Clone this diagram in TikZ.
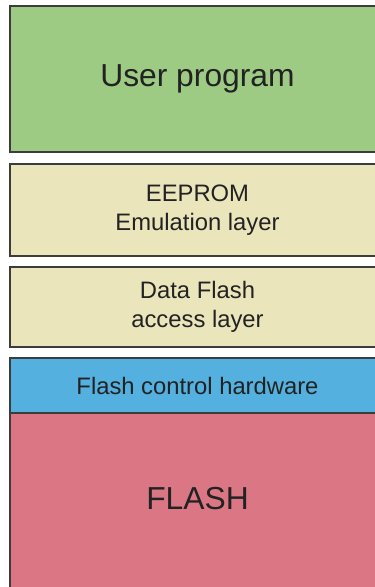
\documentclass[tikz,border=0pt]{standalone}
\usepackage{fontspec}
\setmainfont{Liberation Sans}
\definecolor{cgreen}{RGB}{157,203,132}
\definecolor{cyellow}{RGB}{235,229,188}
\definecolor{cblue}{RGB}{84,176,222}
\definecolor{cred}{RGB}{219,119,133}
\definecolor{cline}{RGB}{60,60,60}
\definecolor{ctext}{RGB}{34,34,34}
\begin{document}
\begin{tikzpicture}[x=1pt,y=-1pt,
  layer/.style={draw=cline, line width=1.3pt, anchor=north west, minimum width=375pt,
    inner sep=0pt, outer sep=0pt, align=center, text=ctext},
  bigtxt/.style={font=\fontsize{31.8}{36}\selectfont},
  midtxt/.style={font=\fontsize{23.8}{29.5}\selectfont}]
\useasboundingbox (0,0) rectangle (375,587);
\clip (0,0) rectangle (375,587);
\node[layer, fill=cgreen, minimum height=146pt, bigtxt] (user) at (10,6) {User program};
\node[layer, fill=cyellow, minimum height=92pt, midtxt] (eeprom) at (10,164) {EEPROM\\Emulation layer};
\node[layer, fill=cyellow, minimum height=80pt, midtxt] (dfa) at (10,267) {Data Flash\\access layer};
\node[layer, fill=cred, minimum height=182pt] (flash) at (10,413) {};
\node[layer, fill=cblue, minimum height=55pt, midtxt] (fch) at (10,358) {Flash control hardware};
\node[bigtxt, text=ctext, inner sep=0pt] (flashlbl) at ([yshift=5pt]flash.center) {FLASH};
\end{tikzpicture}
\end{document}
